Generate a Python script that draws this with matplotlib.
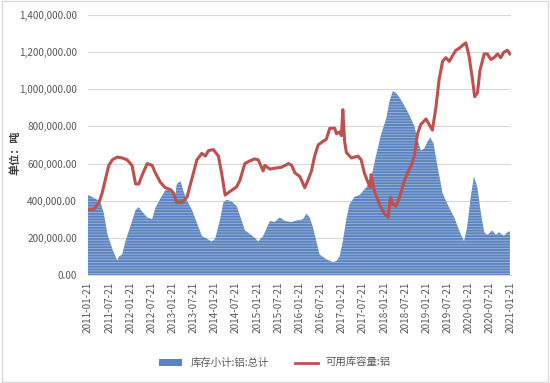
import matplotlib
matplotlib.use("Agg")
import matplotlib.pyplot as plt
from matplotlib.patches import Rectangle, Patch
from matplotlib.lines import Line2D
from matplotlib.ticker import FuncFormatter

plt.rcParams["font.family"] = ["Noto Sans CJK SC", "DejaVu Sans"]
plt.rcParams["hatch.linewidth"] = 0.6

# months since 2011-01-21 and values (tonnes)
stock_months = [0, 1.2, 2.6, 3.6, 4.5, 5.5, 6.9, 8.3, 8.8, 9.7, 10.6, 12, 13.5, 14.4, 15.4,
                16.8, 18.2, 19.1, 20.5, 21.9, 22.9, 23.8, 24.8, 25.2, 26.2, 27.1, 28.1,
                29.5, 30.9, 32.3, 33.7, 35.1, 36.1, 37.5, 38.4, 39.4, 40.8, 42.2, 43.1,
                44.5, 46, 47.3, 48.3, 49.7, 51.6, 53, 54.4, 55.9, 57.7, 59.6, 61, 62,
                62.9, 63.9, 64.8, 65.7, 67.2, 68.1, 69.5, 70.5, 71.4, 72.3, 73.3, 74.2,
                75.6, 77, 78, 79.3, 80.8, 81.7, 83.2, 84.6, 85.5, 86.5, 87.4, 88.4, 89.8,
                91.2, 92.6, 93.5, 94.4, 95.4, 96.4, 97.1, 98, 99.2, 100.6, 102, 103.9,
                105.3, 106.7, 107.6, 108.6, 109.5, 110.5, 111.4, 112.4, 113.3, 114.7,
                115.7, 116.6, 118, 119, 119.7]
stock = [430000, 420000, 405000, 390000, 330000, 220000, 140000, 77000, 100000, 110000,
         180000, 260000, 350000, 365000, 340000, 310000, 300000, 360000, 410000, 455000,
         460000, 440000, 430000, 490000, 505000, 450000, 400000, 350000, 280000, 210000,
         195000, 180000, 195000, 300000, 390000, 405000, 395000, 370000, 320000, 240000,
         220000, 200000, 180000, 210000, 290000, 285000, 310000, 290000, 285000, 295000,
         300000, 330000, 310000, 250000, 180000, 110000, 90000, 80000, 70000, 75000,
         100000, 180000, 300000, 380000, 420000, 430000, 450000, 480000, 560000, 640000,
         760000, 840000, 930000, 990000, 980000, 955000, 910000, 860000, 800000, 730000,
         670000, 680000, 720000, 740000, 710000, 580000, 440000, 380000, 310000, 240000,
         180000, 260000, 420000, 530000, 470000, 340000, 230000, 215000, 240000, 215000,
         230000, 210000, 230000, 235000]

cap_months = [0, 1.7, 3.1, 4, 5, 5.9, 6.9, 8.3, 9.7, 11.1, 12.5, 13.5, 14.4, 15.4, 16.8,
              18.2, 19.1, 20.5, 21.9, 23.4, 24.3, 25.2, 26.7, 28.1, 29.5, 30.9, 32.3,
              33.3, 34.2, 35.6, 37, 37.9, 38.9, 40.3, 42.2, 43.1, 44.5, 46, 47.3, 48.3,
              49.7, 50.2, 51.6, 53, 54.9, 56.9, 57.8, 58.7, 60.1, 61.5, 62.4, 63.4, 64.3,
              65.3, 66.7, 67.6, 68.6, 70, 70.5, 71.4, 71.9, 72.3, 72.8, 73.3, 74.7, 76.6,
              77.5, 78.4, 79.4, 80.1, 80.3, 81.3, 82.7, 84.1, 85.2, 85.8, 86.5, 87.4,
              88.4, 89.8, 90.7, 91.7, 92.6, 93.5, 94.4, 95.9, 96.8, 97.7, 98.7, 99.6,
              100.6, 101.5, 102.5, 103.4, 104.4, 105.3, 106.2, 107.2, 108.1, 109.1,
              109.7, 110.5, 111.2, 112.4, 113.3, 114.3, 115.2, 116.2, 117.1, 118, 119,
              119.7]
capacity = [350000, 355000, 390000, 440000, 520000, 590000, 620000, 635000, 630000, 620000,
            590000, 490000, 490000, 540000, 600000, 590000, 550000, 500000, 470000, 460000,
            440000, 390000, 390000, 420000, 520000, 620000, 655000, 640000, 670000, 675000,
            640000, 550000, 430000, 450000, 475000, 510000, 600000, 615000, 625000, 620000,
            560000, 590000, 570000, 575000, 580000, 600000, 590000, 550000, 530000, 470000,
            510000, 560000, 640000, 700000, 720000, 730000, 790000, 790000, 760000, 770000,
            750000, 890000, 720000, 660000, 630000, 640000, 620000, 550000, 500000, 470000,
            540000, 450000, 380000, 330000, 310000, 420000, 380000, 370000, 420000, 510000,
            550000, 590000, 640000, 760000, 810000, 840000, 810000, 780000, 900000, 1050000,
            1150000, 1170000, 1150000, 1180000, 1210000, 1220000, 1235000, 1250000, 1180000,
            1050000, 960000, 980000, 1100000, 1190000, 1190000, 1160000, 1170000, 1190000,
            1170000, 1200000, 1210000, 1190000]

tick_labels = [f"{2011 + i // 2}-{'01' if i % 2 == 0 else '07'}-21" for i in range(21)]
tick_pos = [6 * i for i in range(21)]

blue = "#5b84bf"
red = "#c0504d"
grey = "#595959"

fig = plt.figure(figsize=(5.5, 3.83), dpi=100)
ax = fig.add_axes([0.16, 0.282, 0.769, 0.679])

ax.fill_between(stock_months, stock, 0, facecolor=blue, edgecolor="#9db6dc",
                hatch="------", linewidth=0, label="库存小计:铝:总计")
ax.plot(cap_months, capacity, color=red, linewidth=2.2, label="可用库容量:铝")

ax.set_xlim(0, 120)
ax.set_ylim(0, 1400000)
ax.set_yticks(range(0, 1400001, 200000))
ax.yaxis.set_major_formatter(FuncFormatter(lambda v, p: f"{v:,.2f}"))
ax.set_xticks(tick_pos)
ax.set_xticklabels(tick_labels, rotation=90)
ax.tick_params(axis="both", labelsize=7.2, colors=grey, length=0)
ax.tick_params(axis="x", pad=5)
ax.tick_params(axis="y", pad=8)
ax.grid(axis="y", color="#d9d9d9", linewidth=0.8)
ax.set_axisbelow(True)
for s in ["top", "right", "left"]:
    ax.spines[s].set_visible(False)
ax.spines["bottom"].set_color("#d9d9d9")

fig.text(0.028, 0.6, "单位：吨", rotation=90, fontsize=8, fontweight="bold",
         color="#404040", ha="center", va="center")

handles = [Patch(facecolor=blue, edgecolor="none"),
           Line2D([0], [0], color=red, linewidth=2)]
fig.legend(handles, ["库存小计:铝:总计", "可用库容量:铝"], loc="center",
           bbox_to_anchor=(0.5, 0.052), ncol=2, frameon=False, fontsize=7.5,
           handlelength=2.2, columnspacing=2.5, labelcolor=grey)

fig.patches.append(Rectangle((0.003, 0.003), 0.994, 0.994, transform=fig.transFigure,
                             fill=False, edgecolor="#d9d9d9", linewidth=1))

fig.savefig("out.png", dpi=100)
